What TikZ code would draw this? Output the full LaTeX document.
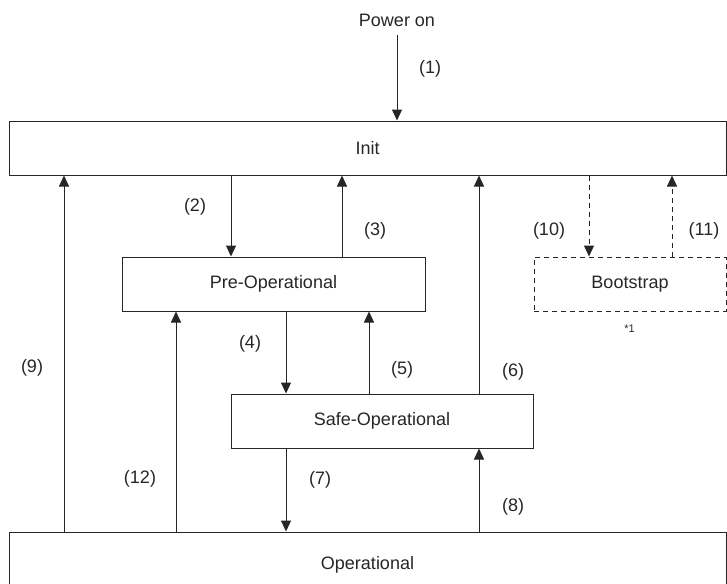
\documentclass[tikz,border=0pt]{standalone}
\usepackage{fontspec}
\setmainfont{Liberation Sans}
\usepackage{tikz}
\usetikzlibrary{arrows.meta,calc,positioning}

\begin{document}
\begin{tikzpicture}[x=1pt,y=-1pt,>={Triangle[length=11pt,width=10pt]},line width=1pt,color=black!85]
	\tikzstyle{block} = [draw, rectangle, minimum height=54pt, inner sep=0pt, font=\fontsize{18}{21}\selectfont]
	\tikzstyle{num} = [font=\fontsize{18}{21}\selectfont]
	\tikzstyle{dashline} = [dash pattern=on 5pt off 4pt]
	
	\useasboundingbox (0,0) rectangle (727,583);
	
	\node [num] (power) at (397,20.5) {Power on};
	
	\node [block, minimum width=717pt] (init) at (367.5,148) {Init};
	\node [block, minimum width=303pt] (preop) at (273.5,284) {Pre-Operational};
	\node [block, dashline, minimum width=192pt] (boot) at (630,284) {Bootstrap};
	\node [block, minimum width=302pt] (safeop) at (382,421) {Safe-Operational};
	\node [block, minimum width=717pt, minimum height=66pt] (oper) at (367.5,565) {Operational};
	
	\node [font=\fontsize{11}{13}\selectfont] (note) at (629.5,329) {*1};
	
	% x positions of the transitions
	\coordinate (c1) at (397,0);
	\coordinate (c2) at (231,0);
	\coordinate (c3) at (342,0);
	\coordinate (c4) at (286,0);
	\coordinate (c5) at (369,0);
	\coordinate (c6) at (479,0);
	\coordinate (c9) at (64,0);
	\coordinate (c10) at (589,0);
	\coordinate (c11) at (672,0);
	\coordinate (c12) at (176,0);
	
	\draw [->, shorten <=4.5pt] (power) --node[num, pos=0.42, xshift=33pt]{(1)} (init.north -| c1);
	\draw [->] (init.south -| c2) --node[num, pos=0.39, xshift=-36pt]{(2)} (preop.north -| c2);
	\draw [->] (preop.north -| c3) --node[num, pos=0.32, xshift=33pt]{(3)} (init.south -| c3);
	\draw [->] (preop.south -| c4) --node[num, pos=0.39, xshift=-36pt]{(4)} (safeop.north -| c4);
	\draw [->] (safeop.north -| c5) --node[num, pos=0.29, xshift=33pt]{(5)} (preop.south -| c5);
	\draw [->] (safeop.north -| c6) --node[num, pos=0.10, xshift=34pt]{(6)} (init.south -| c6);
	\draw [->] (safeop.south -| c4) --node[num, pos=0.38, xshift=34pt]{(7)} (oper.north -| c4);
	\draw [->] (oper.north -| c6) --node[num, pos=0.30, xshift=34pt]{(8)} (safeop.south -| c6);
	\draw [->] (oper.north -| c9) --node[num, pos=0.46, xshift=-32pt]{(9)} (init.south -| c9);
	\draw [->, dashline] (init.south -| c10) --node[num, pos=0.68, xshift=-40pt]{(10)} (boot.north -| c10);
	\draw [->, dashline] (boot.north -| c11) --node[num, pos=0.32, xshift=32pt]{(11)} (init.south -| c11);
	\draw [->] (oper.north -| c12) --node[num, pos=0.24, xshift=-36pt]{(12)} (preop.south -| c12);
\end{tikzpicture}
\end{document}
